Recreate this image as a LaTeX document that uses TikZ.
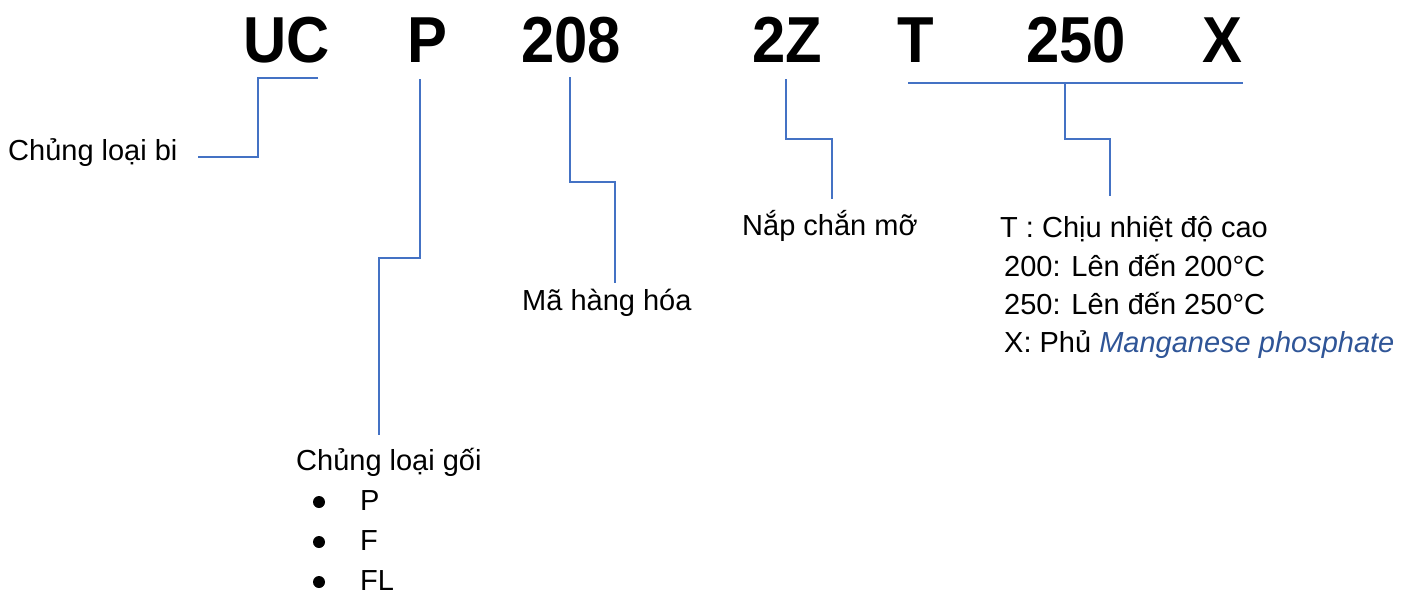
\documentclass[tikz,border=0pt]{standalone}
\usepackage{fontspec}
\setmainfont{Liberation Sans}
\definecolor{lineblue}{HTML}{4472C4}
\definecolor{darkblue}{HTML}{2F5597}
\begin{document}
\begin{tikzpicture}[x=1pt,y=-1pt,
  lbl/.style={inner sep=0pt, anchor=base west, font=\fontsize{29}{34}\selectfont},
  code/.style={inner sep=0pt, anchor=base west, xscale=0.92, transform shape, font=\fontsize{65}{72}\selectfont\bfseries},
  dot/.style={circle, fill=black, inner sep=0pt, minimum size=12pt},
  conn/.style={draw=lineblue, line width=1.6pt, line join=miter}]
\useasboundingbox (0,0) rectangle (1416,595);
% code letters
\node[code] (uc) at (243,62) {UC};
\node[code] (p) at (407,62) {P};
\node[code] (n208) at (521,62) {208};
\node[code] (zz) at (752,62) {2Z};
\node[code] (t) at (897,62) {T};
\node[code] (n250) at (1026,62) {250};
\node[code] (x) at (1202,62) {X};
% labels
\node[lbl] (bi) at (8,160) {Chủng loại bi};
\node[lbl] (goi) at (296,470) {Chủng loại gối};
\node[dot] (b1) at (319,502) {};
\node[dot] (b2) at (319,542) {};
\node[dot] (b3) at (319,582) {};
\node[lbl] (lp) at (360,510) {P};
\node[lbl] (lf) at (360,550) {F};
\node[lbl] (lfl) at (360,590) {FL};
\node[lbl] (ma) at (522,310) {Mã hàng hóa};
\node[lbl] (nap) at (742,235) {Nắp chắn mỡ};
\node[lbl] (t1) at (1000,237) {T : Chịu nhiệt độ cao};
\node[lbl] (t2) at (1004,276) {200: Lên đến 200°C};
\node[lbl] (t3) at (1004,314) {250: Lên đến 250°C};
\node[lbl] (t4) at (1004,352) {X: Phủ \textcolor{darkblue}{\itshape Manganese phosphate}};
% connector end points
\coordinate (ucA) at (318,78);
\coordinate (ucB) at (198,157);
\coordinate (pA) at (420,79);
\coordinate (pB) at (379,435);
\coordinate (nA) at (570,77);
\coordinate (nB) at (615,283);
\coordinate (zA) at (786,79);
\coordinate (zB) at (832,199);
\coordinate (brL) at (908,83);
\coordinate (brR) at (1243,83);
\coordinate (brM) at (1065,83);
\coordinate (brB) at (1110,196);
% connectors
\draw[conn] (ucA) -- (258,78) -- (258,157) -- (ucB);
\draw[conn] (pA) -- (420,258) -- (379,258) -- (pB);
\draw[conn] (nA) -- (570,182) -- (615,182) -- (nB);
\draw[conn] (zA) -- (786,139) -- (832,139) -- (zB);
\draw[conn] (brL) -- (brR);
\draw[conn] (brM) -- (1065,139) -- (1110,139) -- (brB);
\end{tikzpicture}
\end{document}
